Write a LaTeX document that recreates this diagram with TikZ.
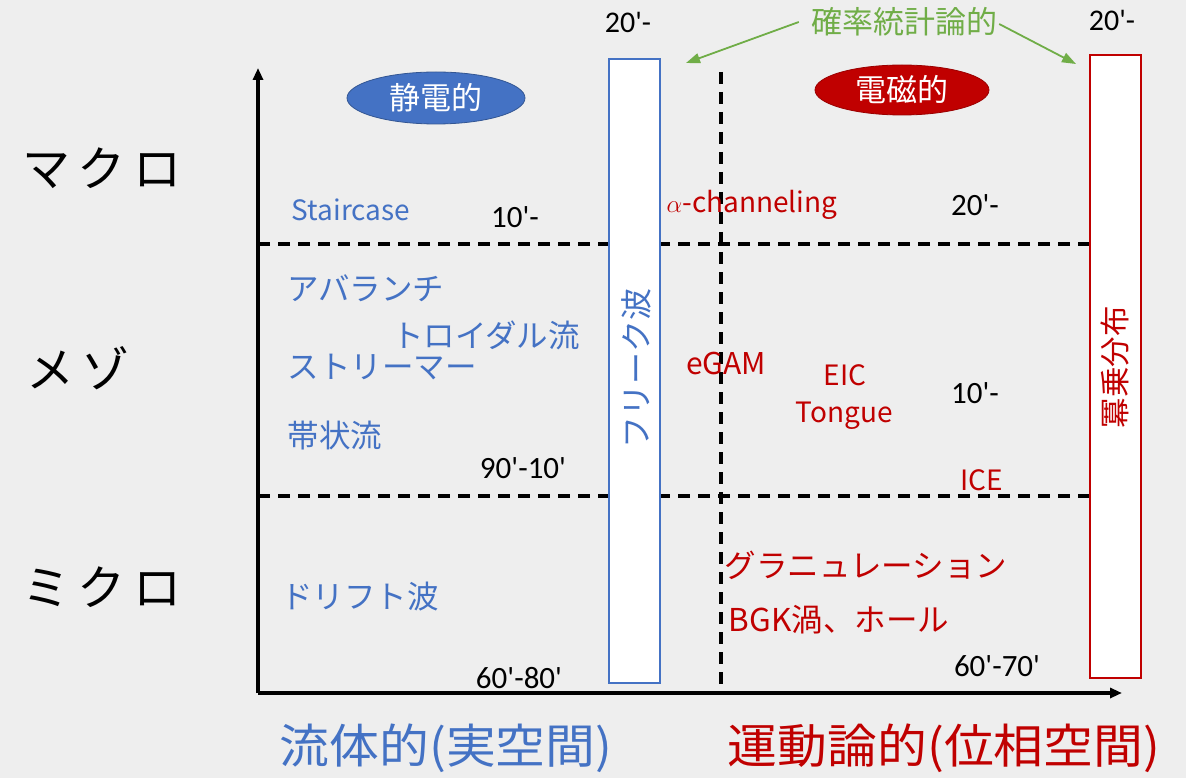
\documentclass[tikz,border=0pt]{standalone}
\usepackage{fontspec}
\setmainfont{Noto Sans CJK JP}
\newfontfamily\numf{Carlito}
\usetikzlibrary{arrows.meta,shapes.geometric}
\definecolor{bg}{HTML}{EEEEEE}
\definecolor{myblue}{HTML}{4472C4}
\definecolor{myred}{HTML}{C00000}
\definecolor{mygreen}{HTML}{70AD47}
\newcommand{\fs}[1]{\fontsize{#1}{#1}\selectfont}
\newcommand{\q}{\textquotesingle}
\tikzset{
  axis/.style={line width=3.2pt, -{Triangle[length=12pt,width=10pt]}},
  dline/.style={line width=3.2pt, dash pattern=on 12pt off 8pt},
  bluebox/.style={draw=myblue, fill=white, line width=1.8pt, inner sep=0pt},
  redbox/.style={draw=myred, fill=white, line width=1.8pt, inner sep=0pt},
  num/.style={font=\numf\fs{31}, text=black, inner sep=0pt},
  btxt/.style={font=\fs{28}, text=myblue, inner sep=0pt},
  rtxt/.style={font=\fs{28}, text=myred, inner sep=0pt},
  jb/.style={font=\fs{31.5}, text=myblue, inner sep=0pt},
  jr/.style={font=\fs{31.5}, text=myred, inner sep=0pt},
  big/.style={font=\fs{48}, text=black, inner sep=0pt},
  garrow/.style={draw=mygreen, line width=1.8pt, -{Triangle[length=14pt,width=10pt]}},
  oval/.style={ellipse, inner sep=0pt, text=white, font=\fs{31}}
}
\begin{document}
\begin{tikzpicture}[x=1pt,y=-1pt]
\fill[bg] (0,0) rectangle (1186,778);
\useasboundingbox (0,0) rectangle (1186,778);

% axes
\coordinate (O) at (258,693);
\coordinate (ytop) at (258,68);
\coordinate (xend) at (1122,693);
\coordinate (d1a) at (258,244);
\coordinate (d1b) at (1090,244);
\coordinate (d2a) at (258,496);
\coordinate (d2b) at (1090,496);
\coordinate (vd1) at (721,72);
\coordinate (vd2) at (721,693);
\draw[dline] (d1a) -- (d1b);
\draw[dline] (d2a) -- (d2b);
\draw[dline] (vd1) -- (vd2);
\draw[axis] (O) -- (ytop);
\draw[axis] (O) -- (xend);

% boxes
\node[bluebox, minimum width=51pt, minimum height=624pt] (fbox) at (634.5,371) {};
\node[rotate=90, font=\fs{32}, text=myblue, inner sep=0pt] (fbt) at (636,368) {フリーク波};
\node[redbox, minimum width=51pt, minimum height=623pt] (rbox) at (1115.5,366.5) {};
\node[rotate=90, font=\fs{30.5}, text=myred, inner sep=0pt] (rbt) at (1115,367) {冪乗分布};

% ellipses
\node[oval, fill=myblue, draw=myblue!75!black, line width=0.8pt, minimum width=178pt, minimum height=52pt] (es) at (436,98) {静電的};
\node[oval, fill=myred, draw=myred!80!black, line width=0.8pt, minimum width=174pt, minimum height=50pt] (em) at (902,90) {電磁的};

% top labels
\node[num, font=\numf\fs{30}] (t20a) at (628,22) {20\q-};
\node[num, font=\numf\fs{30}] (t20b) at (1112,20) {20\q-};
\node[font=\fs{31}, text=mygreen, inner sep=0pt] (prob) at (904,22) {確率統計論的};
\coordinate (ga1) at (686,63);
\coordinate (ga2) at (1076,64);
\draw[garrow] ([xshift=-12pt]prob.west) -- (ga1);
\draw[garrow] ([xshift=2pt,yshift=-2pt]prob.east) -- (ga2);

% left scale labels
\node[big] (macro) at (102,168) {マ\hspace{8pt}ク\hspace{8pt}ロ};
\node[big] (meso) at (78,368) {メ\hspace{8pt}ゾ};
\node[big] (micro) at (102,587) {ミ\hspace{8pt}ク\hspace{8pt}ロ};

% macro row
\node[btxt] (stair) at (351,210) {Staircase};
\node[num] (n10a) at (515,217) {10\q-};
\node[rtxt] (alpha) at (752,205) {$\alpha$-channeling};
\node[num] (n20c) at (975,205) {20\q-};

% meso row
\node[jb] (aval) at (366,288) {アバランチ};
\node[jb] (toro) at (486,335) {トロイダル流};
\node[jb] (stre) at (382,367) {ストリーマー};
\node[jb] (zonal) at (335,436) {帯状流};
\node[num] (n9010) at (523,468) {90\q-10\q};
\node[rtxt, font=\fs{30}] (egam) at (726,364) {eGAM};
\node[rtxt] (eic) at (845,375) {EIC};
\node[rtxt] (tong) at (844,416) {Tongue};
\node[num] (n10b) at (975,393) {10\q-};
\node[rtxt] (ice) at (982,480) {ICE};

% micro row
\node[jb] (drift) at (360,597) {ドリフト波};
\node[num] (n6080) at (519,678) {60\q-80\q};
\node[jr] (gran) at (866,565) {グラニュレーション};
\node[jr] (bgk) at (839,620) {BGK渦、ホール};
\node[num] (n6070) at (997,666) {60\q-70\q};

% bottom labels
\node[font=\fs{47}, text=myblue, inner sep=0pt, xscale=1.06] (fluid) at (446,748) {流体的(実空間)};
\node[font=\fs{47}, text=myred, inner sep=0pt, xscale=1.06] (kin) at (944,748) {運動論的(位相空間)};
\end{tikzpicture}
\end{document}
